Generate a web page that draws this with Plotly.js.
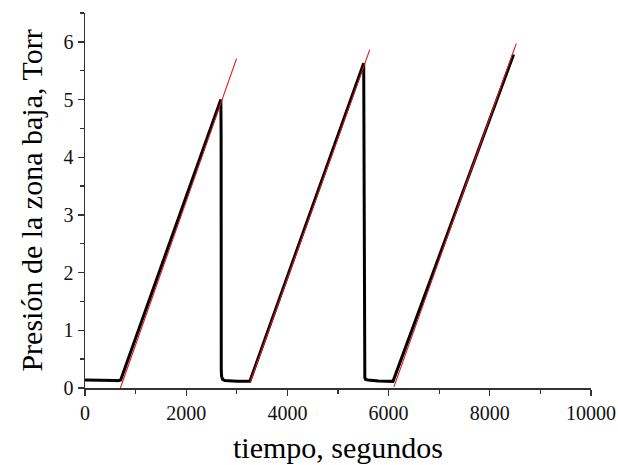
<!DOCTYPE html>
<html>
<head>
<meta charset="utf-8">
<script src="https://cdn.plot.ly/plotly-3.0.1.min.js"></script>
<style>html,body{margin:0;padding:0;background:#fff;}#chart{width:618px;height:465px;}</style>
</head>
<body>
<div id="chart"></div>
<script>
// measured pressure trace (black)
var timeMeasured = [0, 300, 600, 650, 705, 2685, 2690, 2693, 2700, 2720, 2764, 3000, 3258, 5508, 5522, 5530, 5545, 5594, 5800, 6087, 8470];
var pressureMeasured = [0.14, 0.14, 0.13, 0.125, 0.14, 5.0, 4.35, 0.3, 0.2, 0.15, 0.13, 0.115, 0.115, 5.63, 0.3, 0.18, 0.15, 0.14, 0.12, 0.115, 5.78];

// linear fits (red)
var fit1X = [700, 2995];
var fit1Y = [0.0, 5.71];
var fit2X = [3265, 5627];
var fit2Y = [0.1, 5.86];
var fit3X = [6105, 8523];
var fit3Y = [0.02, 5.97];

var xTitle = 'tiempo, segundos';
var yTitle = 'Presión de la zona baja, Torr';

var fitStyle = {color: '#e0141e', width: 1.1};
var traces = [
  {x: timeMeasured, y: pressureMeasured, mode: 'lines', line: {color: '#000000', width: 3}, hoverinfo: 'skip'},
  {x: fit1X, y: fit1Y, mode: 'lines', line: fitStyle},
  {x: fit2X, y: fit2Y, mode: 'lines', line: fitStyle},
  {x: fit3X, y: fit3Y, mode: 'lines', line: fitStyle}
];

var serif = 'Liberation Serif';
var layout = {
  width: 618, height: 465,
  margin: {l: 85, r: 27, t: 13, b: 77},
  paper_bgcolor: '#ffffff', plot_bgcolor: '#ffffff',
  showlegend: false,
  font: {family: serif, color: '#111', size: 20},
  xaxis: {
    range: [0, 10000], dtick: 2000, tick0: 0, tickformat: 'd',
    ticks: 'outside', ticklen: 6, tickwidth: 1.3, tickcolor: '#333',
    minor: {dtick: 1000, ticks: 'outside', ticklen: 4, tickwidth: 1.3, tickcolor: '#333'},
    showline: true, linecolor: '#333', linewidth: 1.5,
    showgrid: false, zeroline: false,
    tickfont: {family: serif, size: 20, color: '#111'},
    title: {text: xTitle, font: {family: serif, size: 30, color: '#000'}, standoff: 14}
  },
  yaxis: {
    range: [0, 6.5], dtick: 1, tick0: 0,
    ticks: 'outside', ticklen: 6, tickwidth: 1.3, tickcolor: '#333',
    minor: {dtick: 0.5, ticks: 'outside', ticklen: 4, tickwidth: 1.3, tickcolor: '#333'},
    showline: true, linecolor: '#333', linewidth: 1.5,
    showgrid: false, zeroline: false,
    tickfont: {family: serif, size: 20, color: '#111'},
    title: {text: yTitle, font: {family: serif, size: 30, color: '#000'}, standoff: 12}
  }
};

Plotly.newPlot('chart', traces, layout, {staticPlot: true, displayModeBar: false});
</script>
</body>
</html>
